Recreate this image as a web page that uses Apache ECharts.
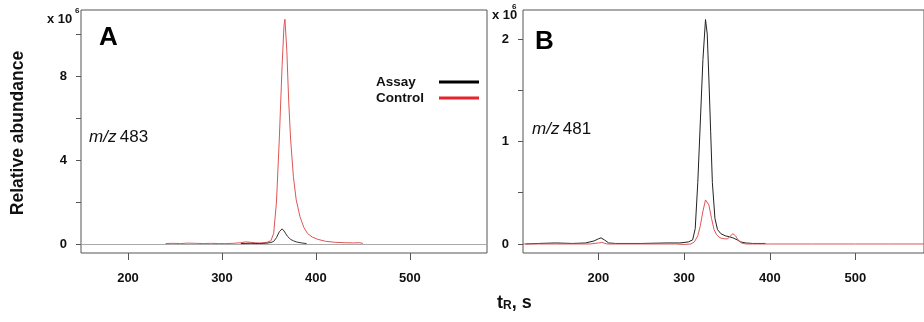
<!DOCTYPE html>
<html>
<head>
<meta charset="utf-8">
<script src="https://cdn.jsdelivr.net/npm/echarts@6/dist/echarts.min.js"></script>
<style>
  html, body { margin: 0; padding: 0; background: #fff; }
  #chart { width: 924px; height: 322px; }
</style>
</head>
<body>
<div id="chart"></div>
<script>
// ---- Panel A (m/z 483) ----
var timeA_assay = [320, 330, 340, 348, 352, 355, 358, 361, 364, 366, 368, 370, 373, 376, 379, 382, 386, 390];
var valA_assay  = [0.02, 0.03, 0.02, 0.04, 0.07, 0.12, 0.3, 0.58, 0.72, 0.62, 0.48, 0.35, 0.22, 0.15, 0.1, 0.07, 0.04, 0.02];
var timeA_control = [240, 248, 256, 264, 272, 280, 288, 296, 304, 312, 320, 325, 330, 336, 342, 348, 352, 355, 358, 361, 364, 366, 367, 369, 371, 373, 376, 379, 383, 387, 391, 396, 402, 410, 420, 430, 440, 446, 450];
var valA_control  = [0.02, 0.03, 0.02, 0.04, 0.03, 0.02, 0.03, 0.02, 0.02, 0.03, 0.06, 0.1, 0.08, 0.05, 0.05, 0.08, 0.15, 0.5, 2.0, 5.0, 8.5, 10.4, 10.7, 9.2, 6.8, 5.0, 3.2, 2.1, 1.3, 0.8, 0.5, 0.33, 0.22, 0.13, 0.08, 0.06, 0.05, 0.06, 0.03];

// ---- Panel B (m/z 481) ----
var timeB_assay = [115, 130, 150, 170, 185, 195, 200, 203, 207, 212, 220, 250, 280, 295, 305, 310, 313, 316, 319, 322, 325, 327, 329, 331, 333, 336, 339, 343, 348, 353, 357, 362, 366, 372, 380, 395];
var valB_assay  = [0.0, 0.005, 0.01, 0.005, 0.01, 0.03, 0.05, 0.06, 0.04, 0.01, 0.005, 0.005, 0.01, 0.01, 0.02, 0.04, 0.15, 0.6, 1.2, 1.8, 2.19, 2.05, 1.6, 1.1, 0.6, 0.25, 0.14, 0.1, 0.08, 0.07, 0.06, 0.04, 0.02, 0.01, 0.005, 0.005];
var timeB_control = [112, 130, 160, 190, 200, 204, 210, 250, 290, 300, 308, 312, 316, 319, 322, 325, 327, 329, 332, 335, 338, 342, 347, 351, 354, 357, 360, 363, 367, 372, 400, 450, 500, 540, 580];
var valB_control  = [0, 0, 0, 0, 0.01, 0.015, 0, 0, 0, -0.005, 0, 0.02, 0.08, 0.18, 0.32, 0.43, 0.44, 0.38, 0.25, 0.14, 0.09, 0.06, 0.05, 0.05, 0.08, 0.1, 0.08, 0.04, 0.01, 0, 0, 0, 0, 0, 0];

// ---- Axis ticks ----
var xTicks = [200, 300, 400, 500];
var yTicksA = [0, 2, 4, 6, 8, 10];
var yLabelsA = [0, 4, 8];
var yTicksB = [0, 0.5, 1, 1.5, 2];
var yLabelsB = [0, 1, 2];
var seriesNames = ['Assay', 'Control'];

function zip(t, v) { return t.map(function (x, i) { return [x, v[i]]; }); }

var FONT = 'Liberation Sans, Arial, sans-serif';
var frame = '#555';

function xAxisCfg(idx, min, max) {
  return {
    type: 'value', gridIndex: idx, min: min, max: max,
    axisLine: { show: false, onZero: false },
    splitLine: { show: false },
    axisTick: { show: true, customValues: xTicks, length: 7, lineStyle: { color: frame, width: 1 } },
    axisLabel: { customValues: xTicks, margin: 19, fontWeight: 'bold', fontSize: 13, color: '#111', fontFamily: FONT }
  };
}
function yAxisCfg(idx, min, max, ticks, labels) {
  return {
    type: 'value', gridIndex: idx, min: min, max: max,
    axisLine: { show: false, onZero: false },
    splitLine: { show: false },
    axisTick: { show: true, customValues: ticks, length: 5, lineStyle: { color: frame, width: 1 } },
    axisLabel: { customValues: labels, margin: 14, fontWeight: 'bold', fontSize: 13, color: '#111', fontFamily: FONT }
  };
}
function legendCfg(top, name, color) {
  return {
    orient: 'horizontal', left: 376, top: top, align: 'right', selectedMode: false,
    itemWidth: 40, itemHeight: 3, padding: 0,
    formatter: '{a|{name}}',
    textStyle: { fontWeight: 'bold', fontSize: 13.5, color: '#111', fontFamily: FONT,
      rich: { a: { width: 58, align: 'left', fontWeight: 'bold', fontSize: 13.5, color: '#111', fontFamily: FONT } } },
    data: [{ name: name, icon: 'rect', itemStyle: { color: color } }]
  };
}

var chart = echarts.init(document.getElementById('chart'), null, { renderer: 'canvas' });
chart.setOption({
  animation: false,
  backgroundColor: '#fff',
  grid: [
    { left: 81, top: 10, width: 406, height: 243, show: true, borderColor: frame, borderWidth: 1, backgroundColor: 'transparent' },
    { left: 523, top: 10, width: 441, height: 243, show: true, borderColor: frame, borderWidth: 1, backgroundColor: 'transparent' }
  ],
  xAxis: [xAxisCfg(0, 150, 582), xAxisCfg(1, 112, 580)],
  yAxis: [yAxisCfg(0, -0.43, 11.14, yTicksA, yLabelsA), yAxisCfg(1, -0.088, 2.283, yTicksB, yLabelsB)],
  legend: [legendCfg(75, seriesNames[0], '#000'), legendCfg(91, seriesNames[1], '#e8242a')],
  series: [
    {
      name: seriesNames[1], type: 'line', xAxisIndex: 0, yAxisIndex: 0, symbol: 'none', silent: true,
      data: zip(timeA_control, valA_control), lineStyle: { color: '#e05555', width: 1 }, itemStyle: { color: '#e05555' }
    },
    {
      name: seriesNames[0], type: 'line', xAxisIndex: 0, yAxisIndex: 0, symbol: 'none', silent: true,
      data: zip(timeA_assay, valA_assay), lineStyle: { color: '#333', width: 1 }, itemStyle: { color: '#333' },
      markLine: { silent: true, symbol: 'none', label: { show: false }, lineStyle: { color: '#aaa', width: 1, type: 'solid' }, data: [{ yAxis: 0 }] }
    },
    {
      name: seriesNames[0], type: 'line', xAxisIndex: 1, yAxisIndex: 1, symbol: 'none', silent: true,
      data: zip(timeB_assay, valB_assay), lineStyle: { color: '#222', width: 1 }, itemStyle: { color: '#222' }
    },
    {
      name: seriesNames[1], type: 'line', xAxisIndex: 1, yAxisIndex: 1, symbol: 'none', silent: true,
      data: zip(timeB_control, valB_control), lineStyle: { color: '#e05555', width: 1 }, itemStyle: { color: '#e05555' }
    }
  ],
  graphic: [
    { type: 'text', left: 47, top: 13, style: { text: 'x 10', font: 'bold 13px ' + FONT, fill: '#111' } },
    { type: 'text', left: 75, top: 7, style: { text: '6', font: 'bold 8px ' + FONT, fill: '#111' } },
    { type: 'text', left: 492, top: 9, style: { text: 'x 10', font: 'bold 13px ' + FONT, fill: '#111' } },
    { type: 'text', left: 512, top: 3, style: { text: '6', font: 'bold 8px ' + FONT, fill: '#111' } },
    { type: 'text', left: 99, top: 25, style: { text: 'A', font: 'bold 26px ' + FONT, fill: '#000' } },
    { type: 'text', left: 535, top: 29, style: { text: 'B', font: 'bold 26px ' + FONT, fill: '#000' } },
    { type: 'text', left: 89, top: 129, style: {
        text: '{i|m/z} {n|483}',
        rich: { i: { font: 'italic 17px ' + FONT, fill: '#111' }, n: { font: '17px ' + FONT, fill: '#111' } } } },
    { type: 'text', left: 532, top: 121, style: {
        text: '{i|m/z} {n|481}',
        rich: { i: { font: 'italic 17px ' + FONT, fill: '#111' }, n: { font: '17px ' + FONT, fill: '#111' } } } },
    { type: 'text', x: 18, y: 133, rotation: Math.PI / 2, style: {
        text: 'Relative abundance', font: 'bold 17.5px ' + FONT, fill: '#111', align: 'center', verticalAlign: 'middle' } },
    { type: 'text', left: 497, top: 294, style: {
        text: '{t|t}{r|R}{t|, s}',
        rich: { t: { font: 'bold 18px ' + FONT, fill: '#111', verticalAlign: 'bottom' }, r: { font: 'bold 12px ' + FONT, fill: '#111', verticalAlign: 'bottom' } } } }
  ]
});
</script>
</body>
</html>
